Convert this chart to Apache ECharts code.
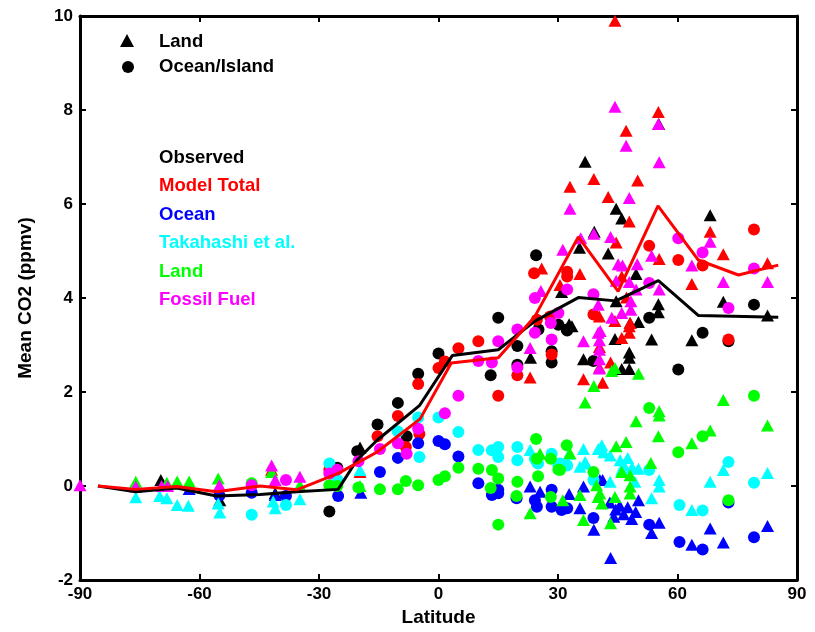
<!DOCTYPE html>
<html>
<head>
<meta charset="utf-8">
<script src="https://cdn.jsdelivr.net/npm/echarts@6/dist/echarts.min.js"></script>
<style>
html, body { margin: 0; padding: 0; background: #fff; }
#chart { width: 815px; height: 632px; }
</style>
</head>
<body>
<div id="chart"></div>
<script>
// zonal mean lines: [latitude, ppmv]
var observedLine = [[-85.5,0],[-76,-0.12],[-65.7,-0.04],[-55.7,-0.21],[-44.8,-0.18],[-35.6,-0.12],[-25.2,-0.07],[-20.5,0.55],[-15.5,0.97],[-4.8,1.71],[3.5,2.78],[15,2.9],[24.2,3.51],[35.1,4.01],[44.5,3.94],[55.2,4.37],[65.2,3.63],[85.3,3.59]];
var modelLine = [[-85.5,0],[-76,-0.07],[-65.7,-0.01],[-55.7,-0.12],[-44.8,0],[-35.6,-0.08],[-25.2,0.27],[-15.5,0.72],[-4.6,1.43],[3.2,2.62],[15,2.73],[24.2,3.61],[35.1,5.3],[45.1,4.14],[55.1,5.96],[65.2,4.81],[75.3,4.49],[85.3,4.7]];

// station values, triangles = land, circles = ocean/island
var obsLand = [[-69.7,0.13],[-54.9,-0.3],[-41,-0.15],[-19.7,0.82],[23.1,2.73],[30.9,4.13],[32.8,3.44],[33.5,3.4],[35.4,5.07],[36.8,6.9],[39.1,5.41],[42.6,4.95],[44.6,5.9],[46,5.69],[49.6,4.51],[44.6,3.93],[55.2,3.87],[55.2,3.7],[55.3,7.7],[36.4,2.7],[44.3,3.13],[48.1,3.47],[50.2,3.49],[53.5,3.12],[47.9,2.84],[47.9,2.73],[46,2.49],[47.9,2.49],[68.2,5.76],[71.5,3.92],[82.6,3.63],[63.6,3.1]];
var obsOcean = [[-25.4,0.39],[-27.4,-0.54],[-20.4,0.74],[-15.3,1.31],[-10.2,1.77],[-8,1.06],[-5.1,2.39],[0,2.82],[13.1,2.36],[15,3.58],[19.8,2.98],[19.8,2.58],[24.5,4.91],[25.1,3.33],[28.4,2.87],[28.4,2.63],[30.1,3.43],[32.2,3.33],[32.3,3.31],[38.9,2.66],[52.9,3.58],[60.2,2.48],[66.3,3.26],[72.8,3.08],[79.2,3.86]];
var modelLand = [[-41.9,0.35],[-19.7,0.3],[23,2.31],[25.9,4.63],[30.5,4.28],[33,6.37],[35.5,4.51],[36.4,2.27],[39,6.53],[40.4,3.61],[40.4,2.96],[40.4,2.52],[41.2,2.2],[42.6,6.15],[43.2,2.63],[44.3,9.9],[44.3,3.51],[44.6,5.18],[46,4.46],[46,3.15],[47.1,7.56],[47.2,4.01],[47.9,5.63],[47.9,3.4],[47.9,3.26],[48.1,3.47],[50,6.5],[55.2,7.96],[55.4,4.83],[63.6,4.3],[68.2,5.41],[71.5,4.93],[82.6,4.74]];
var modelOcean = [[-27.4,0.35],[-15.3,1.06],[-10.2,1.49],[-8.2,0.83],[-5.1,2.17],[-4.8,1.11],[0,2.51],[1.6,2.65],[5,2.93],[10,3.08],[15,1.92],[19.8,2.36],[24,4.53],[24.7,3.54],[28,3.61],[28.4,2.8],[32.3,4.56],[32.3,4.46],[38.9,3.65],[52.9,5.11],[60.2,4.81],[66.3,4.69],[72.8,3.12],[79.2,5.46]];
var oceanLand = [[-62.6,-0.06],[-41,-0.19],[-19.5,-0.14],[23,-0.01],[25.5,-0.12],[32.8,-0.17],[35.5,-0.47],[36.4,-0.01],[39,-0.93],[40.5,0.13],[41.2,0.13],[43,-0.35],[44.5,-0.5],[45.5,-0.42],[46.5,-0.6],[47.5,-0.45],[48.5,-0.7],[49.5,-0.55],[44,-0.65],[50.2,-0.3],[43.2,-1.53],[53.5,-1.0],[55.4,-0.78],[63.6,-1.25],[68.2,-0.9],[71.5,-1.2],[82.6,-0.85]];
var oceanOcean = [[-55,-0.2],[-46.9,-0.14],[-38.3,-0.21],[-25.2,-0.21],[-14.7,0.3],[-10.2,0.6],[-5.1,0.91],[0,0.96],[1.6,0.89],[5,0.63],[10,0.06],[13.4,-0.19],[15,-0.08],[15,-0.15],[19.6,-0.26],[24.2,-0.3],[24.7,-0.44],[28.4,-0.08],[28.4,-0.44],[30.9,-0.51],[32.3,-0.47],[38.9,-0.68],[52.9,-0.82],[60.5,-1.19],[66.3,-1.35],[72.8,-0.35],[79.2,-1.09]];
var takaLand = [[-76,-0.24],[-70,-0.21],[-68.2,-0.26],[-65.6,-0.4],[-62.8,-0.42],[-55.3,-0.37],[-54.9,-0.56],[-41.5,-0.33],[-41,-0.47],[-34.8,-0.28],[-19.7,0.34],[23,0.77],[32.8,0.69],[35.5,0.41],[36.4,0.79],[36.8,0.51],[37,0.48],[40.1,0.79],[41,0.87],[41.5,0.72],[43.1,0.65],[43.1,0.09],[45.6,0.55],[46.5,0.45],[47.5,0.6],[48.6,0.4],[46,0.35],[49.3,0.09],[50.2,0.37],[53.5,-0.26],[55.4,0.13],[55.4,-0.01],[63.6,-0.51],[68.2,0.09],[71.5,0.34],[82.6,0.28]];
var takaOcean = [[-46.9,-0.61],[-38.3,-0.4],[-27.4,0.48],[-25.4,0.13],[-10.2,1.16],[-5.1,1.46],[-4.8,0.62],[0,1.46],[5,1.15],[10,0.77],[13.4,0.76],[15,0.83],[15,0.62],[19.8,0.83],[19.8,0.55],[24.2,0.58],[24.7,0.51],[25,0.48],[28.4,0.69],[30.1,0.44],[30.5,0.48],[32.3,0.44],[38.9,0.13],[52.9,0.34],[60.5,-0.4],[66.3,-0.52],[72.8,0.51],[79.2,0.07]];
var landLand = [[-76,0.09],[-68.2,0.07],[-65.6,0.1],[-62.6,0.1],[-55.3,0.16],[-41.9,0.3],[-34.8,0.02],[-19.7,0],[23,-0.58],[25.5,0.69],[31.2,-0.3],[33,0.7],[35.5,-0.19],[36.4,-0.72],[36.8,1.78],[39,2.13],[39.7,0.02],[40.1,-0.23],[41,-0.37],[40.5,-0.16],[43.2,-0.79],[43.5,2.45],[44.3,2.51],[44.3,-0.23],[44.6,0.85],[46,0.3],[47.1,0.94],[48.1,0.23],[48.1,-0.01],[48.1,-0.16],[49.6,1.38],[50.2,2.39],[53.3,0.49],[55.4,1.59],[55.4,1.5],[55.2,1.06],[63.6,0.91],[68.2,1.18],[71.5,1.83],[82.6,1.29]];
var landOcean = [[-46.9,0.06],[-27.4,0.02],[-25.4,0],[-20.1,-0.03],[-14.7,-0.07],[-10.2,-0.07],[-8.2,0.11],[-5.1,0.02],[0,0.13],[1.6,0.21],[5,0.39],[10,0.37],[13.4,0.34],[13.1,-0.04],[15,0.16],[15,-0.82],[19.8,0.09],[19.6,-0.21],[24.5,1.0],[24.7,0.58],[25,0.21],[28.2,0.58],[28.2,-0.23],[30.1,0.35],[32.2,0.87],[30.5,0.34],[38.9,0.3],[52.9,1.66],[60.2,0.72],[66.3,1.06],[72.8,-0.3],[79.2,1.92]];
var fossilLand = [[-90,0.02],[-76,-0.01],[-69.5,0],[-68,0],[-55,0.02],[-41.9,0.44],[-41,0.13],[-34.8,0.2],[23,2.94],[25.7,4.15],[31.2,5.03],[33,5.9],[35.7,5.27],[36.4,3.08],[39,5.37],[40.1,3.86],[40.1,3.26],[40.4,3.1],[40.4,2.9],[40.4,2.7],[40.4,2.5],[40.6,3.3],[43.2,5.3],[43.5,3.58],[44.3,8.07],[44.6,4.37],[45.1,4.72],[46.2,4.69],[46,3.68],[47.1,7.24],[47.9,6.13],[47.9,4.34],[48.3,3.93],[48.3,3.75],[49.6,4.18],[49.9,4.72],[53.5,4.9],[55.2,7.7],[55.4,6.89],[55.4,4.18],[63.6,4.69],[68.2,5.2],[71.5,4.34],[82.6,4.34]];
var fossilOcean = [[-46.9,0.02],[-38.3,0.13],[-27.4,0.27],[-25.4,0.35],[-20.1,0.53],[-14.7,0.79],[-10.2,0.91],[-8,0.69],[-5.1,1.22],[1.6,1.55],[5,1.92],[10,2.66],[13.4,2.63],[15,3.08],[19.8,3.33],[19.8,2.52],[24.2,3.26],[24.2,4.0],[28.2,3.47],[28.4,3.12],[30.1,3.68],[32.3,4.18],[38.9,4.08],[52.9,4.32],[60.2,5.27],[66.3,4.97],[72.8,3.79],[79.2,4.63]];

var groups = [
  { name: 'Observed', color: '#000000', land: obsLand, ocean: obsOcean },
  { name: 'Model Total', color: '#ff0000', land: modelLand, ocean: modelOcean },
  { name: 'Ocean', color: '#0000ff', land: oceanLand, ocean: oceanOcean },
  { name: 'Takahashi et al.', color: '#00ffff', land: takaLand, ocean: takaOcean },
  { name: 'Land', color: '#00ff00', land: landLand, ocean: landOcean },
  { name: 'Fossil Fuel', color: '#ff00ff', land: fossilLand, ocean: fossilOcean }
];

var FONT = '"Liberation Sans", Arial, Helvetica, sans-serif';
var series = [];
groups.forEach(function (g) {
  series.push({ type: 'scatter', name: g.name, symbol: 'triangle', symbolSize: [13, 12],
    itemStyle: { color: g.color, opacity: 1 }, data: g.land, z: 2 });
  series.push({ type: 'scatter', name: g.name, symbol: 'circle', symbolSize: 12,
    itemStyle: { color: g.color, opacity: 1 }, data: g.ocean, z: 2 });
});
series.push({ type: 'line', data: observedLine, symbol: 'none', z: 5,
  lineStyle: { color: '#000', width: 3 } });
series.push({ type: 'line', data: modelLine, symbol: 'none', z: 6,
  lineStyle: { color: '#ff0000', width: 3 } });

var graphic = [
  { type: 'polygon', shape: { points: [[127, 34], [134, 47], [120, 47]] }, style: { fill: '#000' } },
  { type: 'circle', shape: { cx: 128, cy: 67, r: 6 }, style: { fill: '#000' } },
  { type: 'text', left: 159, top: 32, style: { text: 'Land', fill: '#000', font: 'bold 18.5px ' + FONT } },
  { type: 'text', left: 159, top: 57, style: { text: 'Ocean/Island', fill: '#000', font: 'bold 18.5px ' + FONT } }
];
groups.forEach(function (g, i) {
  graphic.push({ type: 'text', left: 159, top: 148 + i * 28.5,
    style: { text: g.name, fill: g.color, font: 'bold 18.5px ' + FONT } });
});

var chart = echarts.init(document.getElementById('chart'), null, { renderer: 'canvas' });
chart.setOption({
  animation: false,
  backgroundColor: '#fff',
  grid: { left: 80, right: 18, top: 16, bottom: 45 },
  xAxis: [{
    type: 'value', min: -90, max: 90, interval: 30, position: 'bottom',
    name: 'Latitude', nameLocation: 'middle', nameGap: 26,
    nameTextStyle: { fontSize: 19, fontWeight: 'bold', color: '#000', fontFamily: FONT },
    axisLine: { onZero: false, lineStyle: { color: '#000', width: 3 } },
    axisTick: { inside: true, length: 6, lineStyle: { width: 2, color: '#000' } },
    axisLabel: { fontSize: 17, fontWeight: 'bold', color: '#000', fontFamily: FONT, margin: 6 },
    splitLine: { show: false }
  }, {
    type: 'value', min: -90, max: 90, interval: 30, position: 'top',
    axisLine: { onZero: false, lineStyle: { color: '#000', width: 3 } },
    axisTick: { inside: true, length: 6, lineStyle: { width: 2, color: '#000' } },
    axisLabel: { show: false }, splitLine: { show: false }
  }],
  yAxis: [{
    type: 'value', min: -2, max: 10, interval: 2, position: 'left',
    name: 'Mean CO2 (ppmv)', nameLocation: 'middle', nameGap: 45,
    nameTextStyle: { fontSize: 19, fontWeight: 'bold', color: '#000', fontFamily: FONT },
    axisLine: { onZero: false, lineStyle: { color: '#000', width: 3 } },
    axisTick: { inside: true, length: 6, lineStyle: { width: 2, color: '#000' } },
    axisLabel: { fontSize: 17, fontWeight: 'bold', color: '#000', fontFamily: FONT, margin: 7 },
    splitLine: { show: false }
  }, {
    type: 'value', min: -2, max: 10, interval: 2, position: 'right',
    axisLine: { onZero: false, lineStyle: { color: '#000', width: 3 } },
    axisTick: { inside: true, length: 6, lineStyle: { width: 2, color: '#000' } },
    axisLabel: { show: false }, splitLine: { show: false }
  }],
  graphic: graphic,
  series: series
});
</script>
</body>
</html>
